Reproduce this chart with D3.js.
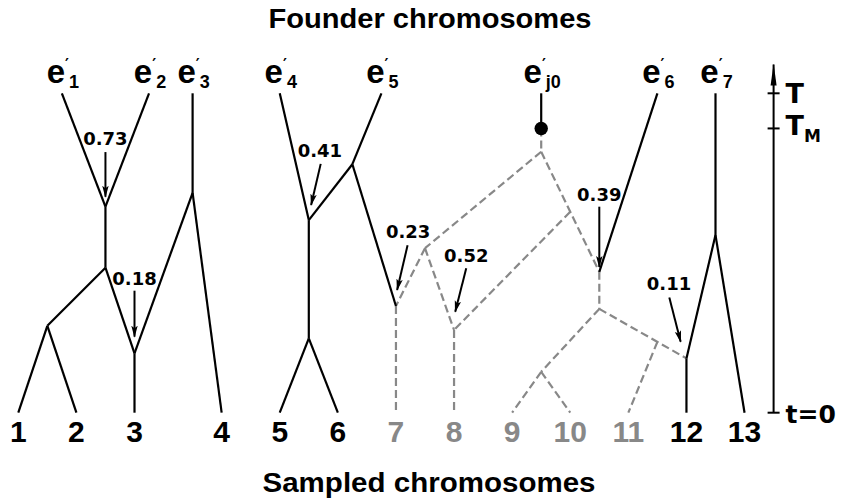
<!DOCTYPE html>
<html>
<head>
<meta charset="utf-8">
<script src="https://cdn.jsdelivr.net/npm/d3@7"></script>
<style>
  html, body { margin: 0; padding: 0; background: #fff; }
  svg { display: block; }
</style>
</head>
<body>
<svg id="chart" width="845" height="502"></svg>
<script>
// ---- Genealogy data (x in lineage columns, t in time units: 0 = sampling, 100 = T) ----
const T = 100;
const TM = 89;
const axisTop = 109;

// sampled chromosomes (leaves)
const leafLabels = ["1","2","3","4","5","6","7","8","9","10","11","12","13"];
const leafPos    = [0, 1, 2, 3.5, 4.5, 5.5, 6.5, 7.5, 8.5, 9.5, 10.5, 11.5, 12.5];
const leafFromJ0 = [false,false,false,false,false,false,true,true,true,true,true,false,false];

// founder chromosomes
const founderSubs = ["1","2","3","4","5","j0","6","7"];
const founderPos  = [0.75, 2.25, 3, 4.5, 6.25, 9, 11, 12];

// internal nodes: [id, column, time]
const nodeList = [
  ["a", 1.5, 64.5], ["b", 3.0, 68.8], ["c", 1.5, 45.4], ["d", 0.5, 27.2],
  ["f", 2.0, 18.6], ["g", 5.75, 77.8], ["h", 5.0, 60.3], ["i", 5.0, 23.3],
  ["k", 6.5, 33.4], ["dot", 9.0, TM], ["m", 9.0, 81.7], ["n", 7.0, 51.5],
  ["q", 9.5, 62.9], ["p", 10.0, 44.1], ["r", 7.5, 25.9], ["s", 10.0, 32.5],
  ["u", 9.0, 12.8], ["w", 11.0, 22.2], ["v", 11.5, 17.0], ["z", 12.0, 55.6]
];

// solid branches (founders F1..F8 -> "F" + index, leaves "L" + label)
const solidEdges = [
  ["F1","a"], ["F2","a"], ["a","c"], ["c","d"], ["d","L1"], ["d","L2"], ["c","f"],
  ["F3","b"], ["b","f"], ["f","L3"], ["b","L4"],
  ["F4","h"], ["F5","g"], ["g","h"], ["h","i"], ["i","L5"], ["i","L6"], ["g","k"],
  ["F6","dot"], ["F7","p"], ["F8","z"], ["z","v"], ["z","L13"], ["v","L12"]
];
// dashed branches: lineages descending from founder e'_j0
const dashedEdges = [
  ["dot","m"], ["m","n"], ["m","p"], ["n","k"], ["n","r"], ["q","r"],
  ["k","L7"], ["r","L8"], ["p","s"], ["s","u"], ["u","L9"], ["u","L10"],
  ["s","v"], ["w","L11"]
];

// inheritance-probability annotations
const arrowLabels = ["0.73","0.18","0.41","0.23","0.52","0.39","0.11"];
const arrowText   = [[1.5,83.8],[2.0,40.0],[5.19,80.1],[6.71,54.7],[7.71,47.3],[10.0,66.4],[11.2,38.4]];
const arrowTail   = [[1.5,81.6],[2.0,38.2],[5.205,77.9],[6.70,52.4],[7.71,45.2],[10.0,64.5],[11.205,36.1]];
const arrowHead   = [[1.5,67.6],[2.0,23.8],[5.04,65.0],[6.52,38.4],[7.52,31.6],[10.0,45.6],[11.40,22.2]];

// ---- Scales ----
const x = d3.scaleLinear().domain([0, 13]).range([18.3, 773.6]);
const y = d3.scaleLinear().domain([0, T]).range([412.7, 93.3]);

const svg = d3.select("#chart");
const BLACK = "#000";
const GREY = "#888";
const SW = 2.2;

// node lookup
const pos = {};
nodeList.forEach(([id, c, t]) => pos[id] = [c, t]);
leafLabels.forEach((l, i) => pos["L" + l] = [leafPos[i], 0]);
founderPos.forEach((c, i) => pos["F" + (i + 1)] = [c, T]);

const defs = svg.append("defs");
defs.append("marker")
  .attr("id", "head")
  .attr("viewBox", "0 0 12 8")
  .attr("refX", 11).attr("refY", 4)
  .attr("markerWidth", 12).attr("markerHeight", 8)
  .attr("markerUnits", "userSpaceOnUse")
  .attr("orient", "auto")
  .append("path").attr("d", "M0,0.8 L12,4 L0,7.2 L2.5,4 Z").attr("fill", BLACK);
defs.append("marker")
  .attr("id", "axhead")
  .attr("viewBox", "0 0 22 8")
  .attr("refX", 21).attr("refY", 4)
  .attr("markerWidth", 22).attr("markerHeight", 8)
  .attr("markerUnits", "userSpaceOnUse")
  .attr("orient", "auto")
  .append("path").attr("d", "M0,4 L0,1 L22,4 L0,7 Z").attr("fill", BLACK);

// ---- Branches ----
const g = svg.append("g");
g.selectAll("line.dashed").data(dashedEdges).join("line")
  .attr("class", "dashed")
  .attr("x1", d => x(pos[d[0]][0])).attr("y1", d => y(pos[d[0]][1]))
  .attr("x2", d => x(pos[d[1]][0])).attr("y2", d => y(pos[d[1]][1]))
  .attr("stroke", GREY).attr("stroke-width", SW)
  .attr("stroke-dasharray", "8,4");

g.selectAll("line.solid").data(solidEdges).join("line")
  .attr("class", "solid")
  .attr("x1", d => x(pos[d[0]][0])).attr("y1", d => y(pos[d[0]][1]))
  .attr("x2", d => x(pos[d[1]][0])).attr("y2", d => y(pos[d[1]][1]))
  .attr("stroke", BLACK).attr("stroke-width", SW)
  .attr("stroke-linecap", "butt").attr("stroke-linejoin", "miter");

// founder of the dashed lineages: marked at T_M
g.append("circle")
  .attr("cx", x(pos.dot[0])).attr("cy", y(pos.dot[1]))
  .attr("r", 6.7).attr("fill", BLACK);

// ---- Probability arrows ----
const ann = svg.append("g");
arrowLabels.forEach((lab, i) => {
  ann.append("line")
    .attr("x1", x(arrowTail[i][0])).attr("y1", y(arrowTail[i][1]))
    .attr("x2", x(arrowHead[i][0])).attr("y2", y(arrowHead[i][1]))
    .attr("stroke", BLACK).attr("stroke-width", 2)
    .attr("marker-end", "url(#head)");
  ann.append("text")
    .attr("x", x(arrowText[i][0])).attr("y", y(arrowText[i][1]))
    .attr("text-anchor", "middle")
    .attr("font-family", "DejaVu Sans")
    .attr("font-weight", "bold")
    .attr("font-size", 18)
    .attr("fill", BLACK)
    .text(lab);
});

// ---- Leaf labels ----
svg.append("g").selectAll("text").data(leafLabels).join("text")
  .attr("x", (d, i) => x(leafPos[i]))
  .attr("y", y(0) + 29)
  .attr("text-anchor", "middle")
  .attr("font-family", "Liberation Sans")
  .attr("font-weight", "bold")
  .attr("font-size", 30)
  .attr("fill", (d, i) => leafFromJ0[i] ? GREY : BLACK)
  .text(d => d);

// ---- Founder labels e'_k: glyphs flow one after another in a single text ----
founderSubs.forEach((sub, i) => {
  const t = svg.append("text")
    .attr("font-family", "Liberation Sans").attr("font-weight", "bold")
    .attr("y", 83);
  t.append("tspan").attr("font-size", 33).text("e");
  t.append("tspan").attr("dy", -13)
    .attr("font-family", "DejaVu Sans").attr("font-size", 15).text("\u2032");
  t.append("tspan").attr("dy", 18).attr("font-size", 18).text(sub);
  const w = t.node().getComputedTextLength();
  t.attr("x", x(founderPos[i]) - w / 2 + 1);
});

// ---- Time axis ----
const ax = x(13);
const axg = svg.append("g");
axg.append("line")
  .attr("x1", ax).attr("x2", ax)
  .attr("y1", y(0)).attr("y2", y(axisTop))
  .attr("stroke", BLACK).attr("stroke-width", 2)
  .attr("marker-end", "url(#axhead)");
const ticks = [0, TM, T];
axg.selectAll("line.tick").data(ticks).join("line")
  .attr("class", "tick")
  .attr("x1", ax - 6).attr("x2", ax + 6)
  .attr("y1", d => y(d)).attr("y2", d => y(d))
  .attr("stroke", BLACK).attr("stroke-width", 2);

const axFont = "DejaVu Sans";
axg.append("text").attr("x", ax + 12).attr("y", y(T) + 10)
  .attr("font-family", axFont).attr("font-weight", "bold").attr("font-size", 27)
  .text("T");
const tm = axg.append("text").attr("x", ax + 12).attr("y", y(TM) + 7)
  .attr("font-family", axFont).attr("font-weight", "bold").attr("font-size", 27);
tm.append("tspan").text("T");
tm.append("tspan").attr("dy", 7).attr("font-size", 17).text("M");
axg.append("text").attr("x", ax + 12).attr("y", y(0) + 10)
  .attr("font-family", axFont).attr("font-weight", "bold").attr("font-size", 25)
  .text("t=0");

// ---- Titles ----
svg.append("text").attr("x", 430).attr("y", 28)
  .attr("text-anchor", "middle")
  .attr("font-family", "Liberation Sans").attr("font-weight", "bold")
  .attr("font-size", 27)
  .attr("textLength", 323).attr("lengthAdjust", "spacingAndGlyphs")
  .text("Founder chromosomes");
svg.append("text").attr("x", 429).attr("y", 492)
  .attr("text-anchor", "middle")
  .attr("font-family", "Liberation Sans").attr("font-weight", "bold")
  .attr("font-size", 27)
  .attr("textLength", 333).attr("lengthAdjust", "spacingAndGlyphs")
  .text("Sampled chromosomes");
</script>
</body>
</html>
